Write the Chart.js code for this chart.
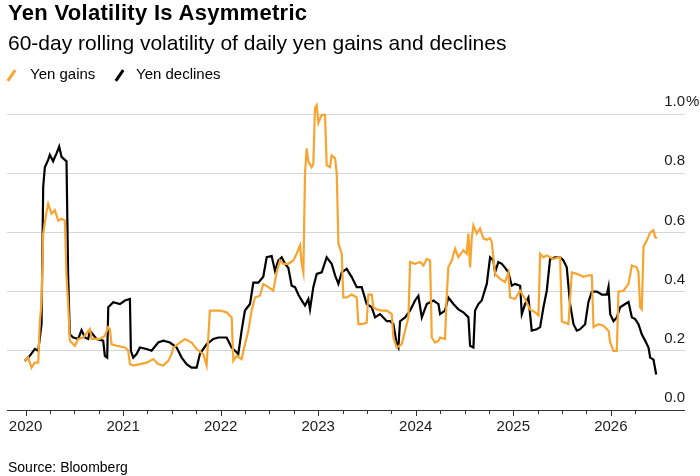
<!DOCTYPE html>
<html><head><meta charset="utf-8">
<script src="https://cdn.jsdelivr.net/npm/chart.js@4.4.1/dist/chart.umd.min.js"></script>
<style>
html,body{margin:0;padding:0;background:#fff;}
#wrap{position:relative;width:700px;height:476px;overflow:hidden;font-family:"Liberation Sans",Arial,sans-serif;color:#000;}
#c{position:absolute;left:0;top:0;}
.t{position:absolute;white-space:nowrap;}
#title{left:8px;top:2px;font-size:22px;line-height:22px;font-weight:bold;letter-spacing:0.3px;}
#sub{left:8px;top:32px;font-size:21px;line-height:21px;}
.lg{top:66px;font-size:15px;line-height:15px;}
.mk{position:absolute;top:68.5px;width:3px;height:13px;transform:rotate(35deg);}
#source{left:8px;top:460px;font-size:14px;line-height:14px;}
</style>
</head><body>
<div id="wrap">
<canvas id="c" width="700" height="476"></canvas>
<div class="t" id="title">Yen Volatility Is Asymmetric</div>
<div class="t" id="sub">60-day rolling volatility of daily yen gains and declines</div>
<div class="mk" style="left:10.2px;background:#F8A430;"></div>
<div class="t lg" style="left:30px;">Yen gains</div>
<div class="mk" style="left:118px;background:#000;"></div>
<div class="t lg" style="left:136px;">Yen declines</div>
<div class="t" id="source">Source: Bloomberg</div>
</div>
<script>
// ---- DATA (decimal years, volatility in %) ----
const seriesNames = ['Yen gains', 'Yen declines'];
const yearLabels = [2020, 2021, 2022, 2023, 2024, 2025, 2026];
const yTickValues = [0, 0.2, 0.4, 0.6, 0.8, 1.0];

const gainsX = [2019.993,2020.027,2020.061,2020.095,2020.130,2020.147,2020.164,2020.181,2020.215,2020.232,2020.266,2020.301,2020.335,2020.369,2020.403,2020.420,2020.437,2020.454,2020.506,2020.540,2020.591,2020.660,2020.677,2020.762,2020.813,2020.848,2020.865,2020.882,2020.933,2021.019,2021.053,2021.070,2021.104,2021.172,2021.241,2021.309,2021.360,2021.412,2021.463,2021.497,2021.514,2021.583,2021.634,2021.702,2021.754,2021.822,2021.856,2021.890,2021.942,2021.993,
2022.061,2022.113,2022.130,2022.164,2022.215,2022.249,2022.284,2022.318,2022.352,2022.403,2022.437,2022.489,2022.540,2022.574,2022.608,2022.643,2022.694,2022.745,2022.779,2022.814,2022.831,2022.848,2022.865,2022.882,2022.899,2022.933,2022.950,2022.967,2022.985,2023.002,2023.036,2023.070,2023.087,2023.121,2023.138,2023.173,2023.190,2023.207,2023.241,2023.258,2023.292,2023.344,2023.395,2023.412,2023.446,2023.497,2023.514,2023.549,2023.566,2023.600,2023.651,2023.703,2023.754,2023.771,2023.805,2023.856,2023.891,2023.925,2023.942,2023.993,2024.045,2024.079,2024.113,2024.147,2024.164,2024.198,2024.233,
2024.249,2024.300,2024.317,2024.334,2024.369,2024.403,2024.437,2024.488,2024.522,2024.540,2024.557,2024.574,2024.591,2024.625,2024.659,2024.693,2024.728,2024.762,2024.779,2024.813,2024.864,2024.916,2024.950,2024.967,2025.018,2025.070,2025.121,2025.172,2025.224,2025.258,2025.275,2025.309,2025.343,2025.377,2025.412,2025.463,2025.480,2025.497,2025.531,2025.565,2025.600,2025.651,2025.719,2025.770,2025.805,2025.822,2025.873,2025.924,2025.976,2025.993,2026.027,2026.061,2026.078,2026.130,2026.181,2026.215,2026.266,2026.283,2026.300,2026.317,2026.335,2026.369,2026.403,2026.437,2026.454,2026.471];
const gainsY = [0.166,0.177,0.143,0.160,0.160,0.300,0.360,0.596,0.670,0.697,0.663,0.675,0.640,0.646,0.640,0.450,0.360,0.234,0.217,0.240,0.245,0.273,0.240,0.240,0.250,0.280,0.273,0.222,0.217,0.211,0.200,0.155,0.150,0.155,0.160,0.172,0.155,0.150,0.166,0.189,0.210,0.228,0.240,0.228,0.206,0.189,0.150,0.336,0.336,0.336,
0.330,0.313,0.166,0.183,0.172,0.222,0.268,0.336,0.380,0.386,0.426,0.415,0.403,0.465,0.505,0.494,0.494,0.505,0.528,0.556,0.494,0.465,0.800,0.884,0.840,0.820,0.830,1.020,1.030,0.970,0.997,0.997,0.827,0.820,0.860,0.850,0.800,0.563,0.528,0.380,0.380,0.390,0.380,0.290,0.290,0.295,0.390,0.390,0.347,0.340,0.336,0.336,0.324,0.245,0.211,0.222,0.268,0.313,0.500,0.494,0.500,0.488,0.510,0.505,0.245,0.228,0.234,
0.245,0.240,0.380,0.482,0.505,0.545,0.516,0.540,0.528,0.596,0.482,0.580,0.624,0.596,0.613,0.580,0.575,0.580,0.567,0.460,0.443,0.432,0.465,0.380,0.375,0.403,0.375,0.340,0.330,0.320,0.528,0.516,0.522,0.516,0.510,0.516,0.516,0.300,0.295,0.290,0.465,0.460,0.450,0.455,0.455,0.280,0.290,0.285,0.268,0.228,0.200,0.200,0.400,0.403,0.426,0.488,0.482,0.465,0.347,0.340,0.552,0.573,0.600,0.607,0.585,0.580];

const declinesX = [2019.993,2020.044,2020.095,2020.130,2020.164,2020.181,2020.198,2020.232,2020.249,2020.283,2020.301,2020.318,2020.345,2020.369,2020.403,2020.420,2020.437,2020.454,2020.489,2020.540,2020.574,2020.608,2020.642,2020.660,2020.728,2020.796,2020.813,2020.837,2020.848,2020.899,2020.967,2021.019,2021.070,2021.080,2021.104,2021.138,2021.172,2021.241,2021.292,2021.360,2021.412,2021.480,2021.549,2021.600,2021.651,2021.702,2021.754,2021.788,2021.856,2021.925,2021.976,
2022.061,2022.113,2022.147,2022.181,2022.215,2022.249,2022.301,2022.335,2022.386,2022.437,2022.472,2022.523,2022.557,2022.591,2022.626,2022.660,2022.694,2022.728,2022.762,2022.796,2022.831,2022.865,2022.899,2022.916,2022.950,2022.985,2023.036,2023.087,2023.138,2023.173,2023.207,2023.241,2023.292,2023.344,2023.395,2023.446,2023.497,2023.549,2023.583,2023.634,2023.703,2023.737,2023.771,2023.805,2023.822,2023.839,2023.891,2023.942,2023.993,2024.027,2024.062,2024.113,2024.181,2024.233,
2024.249,2024.300,2024.334,2024.386,2024.437,2024.488,2024.540,2024.557,2024.591,2024.608,2024.642,2024.676,2024.728,2024.762,2024.796,2024.813,2024.847,2024.882,2024.916,2024.950,2024.984,2025.018,2025.070,2025.087,2025.121,2025.155,2025.189,2025.241,2025.275,2025.309,2025.343,2025.377,2025.429,2025.480,2025.514,2025.548,2025.582,2025.617,2025.651,2025.685,2025.736,2025.770,2025.805,2025.856,2025.907,2025.959,2025.976,2025.993,2026.027,2026.061,2026.095,2026.147,2026.181,2026.215,2026.249,2026.283,2026.317,2026.352,2026.386,2026.403,2026.437,2026.465];
const declinesY = [0.166,0.183,0.206,0.200,0.290,0.754,0.820,0.845,0.862,0.840,0.855,0.867,0.890,0.855,0.845,0.840,0.450,0.256,0.245,0.240,0.270,0.245,0.240,0.268,0.240,0.234,0.183,0.177,0.347,0.364,0.358,0.370,0.375,0.200,0.177,0.189,0.211,0.206,0.200,0.228,0.234,0.228,0.211,0.177,0.155,0.143,0.143,0.190,0.222,0.240,0.245,
0.245,0.211,0.200,0.189,0.268,0.336,0.358,0.430,0.430,0.450,0.516,0.520,0.470,0.505,0.516,0.494,0.480,0.420,0.415,0.390,0.370,0.353,0.375,0.340,0.415,0.460,0.465,0.516,0.494,0.455,0.426,0.465,0.477,0.449,0.415,0.415,0.358,0.347,0.313,0.324,0.300,0.300,0.290,0.222,0.211,0.300,0.313,0.336,0.370,0.386,0.313,0.358,0.370,0.358,
0.324,0.336,0.380,0.358,0.340,0.330,0.313,0.217,0.211,0.336,0.358,0.370,0.426,0.516,0.505,0.465,0.500,0.494,0.480,0.465,0.420,0.426,0.420,0.324,0.358,0.380,0.268,0.273,0.280,0.347,0.403,0.510,0.516,0.516,0.505,0.482,0.358,0.290,0.268,0.273,0.290,0.365,0.400,0.400,0.390,0.390,0.416,0.324,0.300,0.313,0.347,0.358,0.365,0.313,0.307,0.290,0.256,0.234,0.211,0.177,0.170,0.120];

// ---- derived ----
const quarterTicks = [];
yearLabels.forEach(y => { for (let q = 0; q < 4; q++) { const v = y + q * 0.25; if (v <= 2026.25) quarterTicks.push(v); } });
const FONT = '"Liberation Sans", Arial, sans-serif';
const toPts = (xs, ys) => xs.map((x, i) => ({x: x, y: ys[i]}));

const tickMarks = {
  id: 'tickMarks',
  afterDraw(chart) {
    const xs = chart.scales.x, ys = chart.scales.y, ctx = chart.ctx;
    const y0 = ys.getPixelForValue(0);
    ctx.save();
    ctx.strokeStyle = '#333';
    ctx.lineWidth = 1;
    xs.ticks.forEach(t => {
      const px = Math.round(xs.getPixelForValue(t.value)) + 0.5;
      const len = Number.isInteger(t.value) ? 6 : 4;
      ctx.beginPath(); ctx.moveTo(px, y0); ctx.lineTo(px, y0 + len); ctx.stroke();
    });
    ctx.fillStyle = '#1a1a1a';
    ctx.font = '15px ' + FONT;
    ctx.textAlign = 'left';
    ctx.textBaseline = 'middle';
    ctx.fillText('%', ys.left + 1, ys.getPixelForValue(1.0) - 12);
    ctx.restore();
  }
};

new Chart(document.getElementById('c'), {
  type: 'line',
  data: {
    datasets: [
      {label: seriesNames[0], data: toPts(gainsX, gainsY), borderColor: '#F8A430', borderWidth: 2.2, pointRadius: 0, tension: 0, clip: false},
      {label: seriesNames[1], data: toPts(declinesX, declinesY), borderColor: '#000000', borderWidth: 2.2, pointRadius: 0, tension: 0, clip: false}
    ]
  },
  options: {
    responsive: false, animation: false, devicePixelRatio: 1,
    layout: {padding: {left: 7, right: 15, top: 114, bottom: 36}},
    plugins: {legend: {display: false}, tooltip: {enabled: false}},
    scales: {
      x: {
        type: 'linear', min: 2019.81, max: 2026.76,
        afterBuildTicks: s => { s.ticks = quarterTicks.map(v => ({value: v})); },
        afterFit: s => { s.height = 30; },
        grid: {display: false, drawTicks: false},
        border: {display: false},
        ticks: {autoSkip: false, maxRotation: 0, padding: 8, color: '#1a1a1a', font: {family: FONT, size: 15},
          callback: v => Number.isInteger(v) ? String(v) : ''}
      },
      y: {
        position: 'right', min: 0, max: 1,
        afterBuildTicks: s => { s.ticks = yTickValues.map(v => ({value: v})); },
        afterFit: s => { s.width = 0; },
        grid: {color: c => (c.tick && c.tick.value === 0) ? '#333333' : '#d6d6d6', lineWidth: 1, drawTicks: false},
        border: {display: false},
        ticks: {mirror: true, padding: 0, labelOffset: -12, color: '#1a1a1a', font: {family: FONT, size: 15},
          callback: v => v.toFixed(1)}
      }
    }
  },
  plugins: [tickMarks]
});
</script>
</body></html>
